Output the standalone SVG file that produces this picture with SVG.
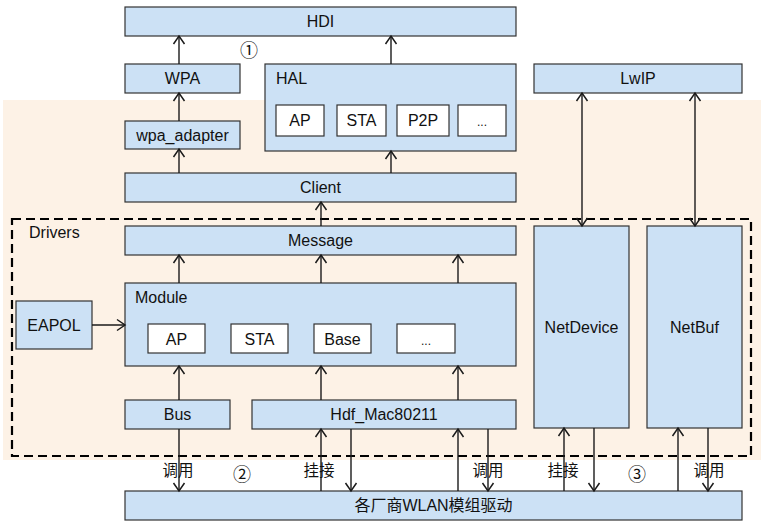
<svg xmlns="http://www.w3.org/2000/svg" width="761" height="527" viewBox="0 0 761 527">
<defs>
<marker id="ah" markerUnits="userSpaceOnUse" markerWidth="14" markerHeight="14" viewBox="-10 -7 12 14" refX="0" refY="0" orient="auto-start-reverse" overflow="visible">
<path d="M-8,-5.5 L0,0 L-8,5.5" fill="none" stroke="#1a1a1a" stroke-width="1.5"/>
</marker>
<style>
.b{fill:#cce1f5;stroke:#333;stroke-width:1.2}
.w{fill:#fff;stroke:#333;stroke-width:1.2}
.t{font-family:"Liberation Sans",Arial,sans-serif;font-size:16px;fill:#111;text-anchor:middle}
.tl{font-family:"Liberation Sans",Arial,sans-serif;font-size:16px;fill:#111}
.c{font-family:"Liberation Sans","Noto Sans CJK SC",sans-serif;font-size:15.5px;fill:#111;text-anchor:middle}
.n{font-family:"Noto Sans CJK SC","DejaVu Sans",sans-serif;font-size:18px;fill:#111;text-anchor:middle}
.a{stroke:#1a1a1a;stroke-width:1.4;fill:none;marker-end:url(#ah)}
.d{stroke:#1a1a1a;stroke-width:1.4;fill:none;marker-end:url(#ah);marker-start:url(#ah)}
</style>
</defs>
<rect x="3" y="100" width="758" height="360" fill="#fdf2e6"/>
<rect x="12" y="219" width="739" height="237" fill="none" stroke="#000" stroke-width="2.2" stroke-dasharray="9 5"/>
<text class="tl" x="29" y="238">Drivers</text>

<g id="hdi"><rect class="b" x="125" y="7" width="391" height="29"/><text class="t" x="320.5" y="27">HDI</text></g>
<g id="wpa"><rect class="b" x="125" y="64" width="115" height="29"/><text class="t" x="182.5" y="84">WPA</text></g>
<g id="hal"><rect class="b" x="265" y="64" width="251" height="87"/><text class="tl" x="276" y="84">HAL</text>
<rect class="w" x="276" y="105" width="48" height="31"/><text class="t" x="300" y="126">AP</text>
<rect class="w" x="337" y="105" width="49" height="31"/><text class="t" x="361.5" y="126">STA</text>
<rect class="w" x="397" y="105" width="52" height="31"/><text class="t" x="423" y="126">P2P</text>
<rect class="w" x="458" y="105" width="48" height="31"/><text class="t" x="482" y="126" style="font-size:12px">...</text></g>
<g id="lwip"><rect class="b" x="534" y="64" width="208" height="29"/><text class="t" x="638" y="84">LwIP</text></g>
<g id="wpa_adapter"><rect class="b" x="125" y="121" width="115" height="28"/><text class="t" x="182.5" y="141">wpa_adapter</text></g>
<g id="client"><rect class="b" x="125" y="173" width="391" height="29"/><text class="t" x="320.5" y="193">Client</text></g>
<g id="message"><rect class="b" x="125" y="226" width="391" height="29"/><text class="t" x="320.5" y="246">Message</text></g>
<g id="module"><rect class="b" x="125" y="283" width="391" height="83"/><text class="tl" x="135" y="303">Module</text>
<rect class="w" x="148" y="324" width="57" height="29"/><text class="t" x="176.5" y="345">AP</text>
<rect class="w" x="231" y="324" width="57" height="29"/><text class="t" x="259.5" y="345">STA</text>
<rect class="w" x="314" y="324" width="57" height="29"/><text class="t" x="342.5" y="345">Base</text>
<rect class="w" x="397" y="324" width="58" height="29"/><text class="t" x="426" y="345" style="font-size:12px">...</text></g>
<g id="eapol"><rect class="b" x="16" y="301" width="76" height="48"/><text class="t" x="54" y="331">EAPOL</text></g>
<g id="bus"><rect class="b" x="125" y="400" width="105" height="29"/><text class="t" x="177.5" y="420">Bus</text></g>
<g id="hdf"><rect class="b" x="252" y="400" width="264" height="29"/><text class="t" x="384" y="420">Hdf_Mac80211</text></g>
<g id="netdevice"><rect class="b" x="534" y="226" width="95" height="202"/><text class="t" x="581.5" y="333">NetDevice</text></g>
<g id="netbuf"><rect class="b" x="647" y="226" width="95" height="202"/><text class="t" x="694.5" y="333">NetBuf</text></g>
<g id="vendor"><rect class="b" x="125" y="491" width="617" height="29"/><text class="c" x="433.5" y="511" style="font-size:16px">各厂商WLAN模组驱动</text></g>

<g id="connectors">
<line class="a" x1="179" y1="64" x2="179" y2="36"/>
<line class="a" x1="391" y1="64" x2="391" y2="36"/>
<line class="a" x1="179" y1="121" x2="179" y2="93"/>
<line class="a" x1="179" y1="173" x2="179" y2="149"/>
<line class="a" x1="391" y1="173" x2="391" y2="151"/>
<line class="a" x1="321" y1="226" x2="321" y2="202"/>
<line class="a" x1="179" y1="283" x2="179" y2="255"/>
<line class="a" x1="321" y1="283" x2="321" y2="255"/>
<line class="a" x1="458" y1="283" x2="458" y2="255"/>
<line class="a" x1="92" y1="325" x2="125" y2="325"/>
<line class="a" x1="179" y1="400" x2="179" y2="366"/>
<line class="a" x1="321" y1="400" x2="321" y2="366"/>
<line class="a" x1="458" y1="400" x2="458" y2="366"/>
<line class="d" x1="582" y1="93" x2="582" y2="226"/>
<line class="d" x1="695" y1="93" x2="695" y2="226"/>
<line class="a" x1="179" y1="429" x2="179" y2="491"/>
<line class="a" x1="321" y1="491" x2="321" y2="429"/>
<line class="a" x1="351" y1="429" x2="351" y2="491"/>
<line class="a" x1="458" y1="491" x2="458" y2="429"/>
<line class="a" x1="488" y1="429" x2="488" y2="491"/>
<line class="a" x1="564" y1="491" x2="564" y2="428"/>
<line class="a" x1="594" y1="428" x2="594" y2="491"/>
<line class="a" x1="678" y1="491" x2="678" y2="428"/>
<line class="a" x1="708" y1="428" x2="708" y2="491"/>
</g>
<text class="c" x="178" y="476">调用</text>
<text class="c" x="319" y="476">挂接</text>
<text class="c" x="488" y="476">调用</text>
<text class="c" x="563" y="476">挂接</text>
<text class="c" x="709" y="476">调用</text>
<text class="n" x="249" y="57">①</text>
<text class="n" x="242" y="481">②</text>
<text class="n" x="637" y="481">③</text>
</svg>
